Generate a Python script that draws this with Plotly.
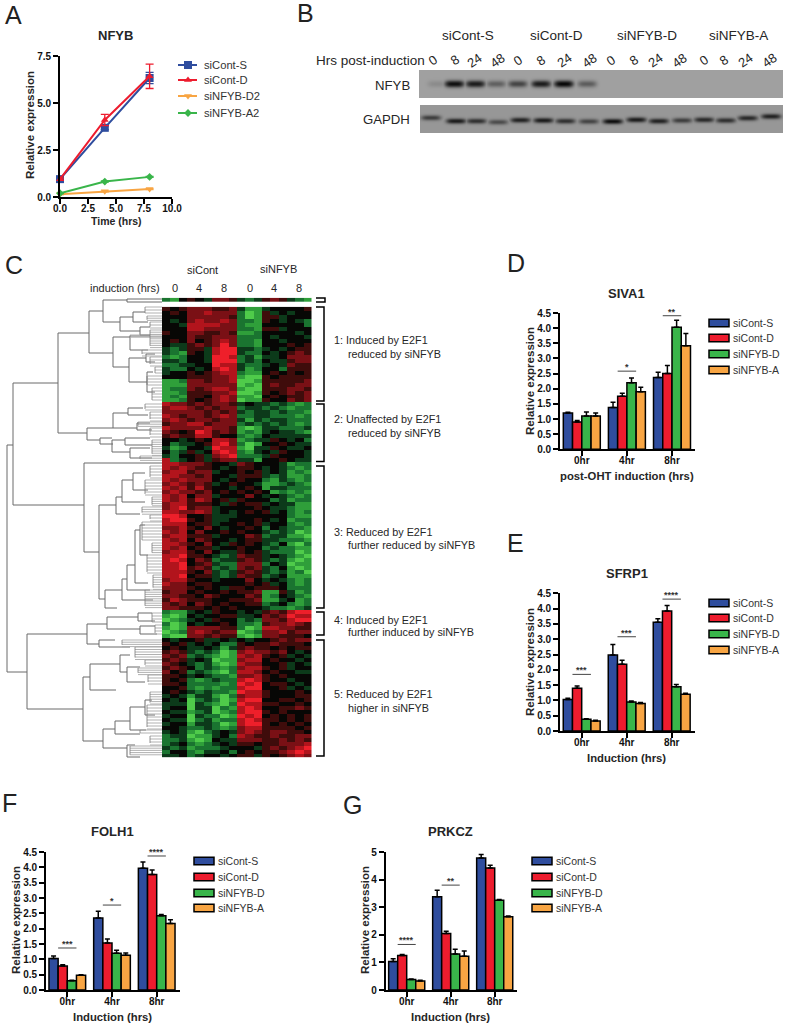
import numpy as np
import plotly.graph_objects as go

W, H = 785, 1024
FONT = "Liberation Sans"
TXT = "#262626"

# ---------- data ----------
SERIES = ["siCont-S", "siCont-D", "siNFYB-D", "siNFYB-A"]
COLORS = ["#2f4d9e", "#ed1c2e", "#39b54a", "#f8a543"]
GROUPS = ["0hr", "4hr", "8hr"]

A_time = [0, 4, 8]
A_names = ["siCont-S", "siCont-D", "siNFYB-D2", "siNFYB-A2"]
A_colors = ["#2f4d9e", "#ed1c2e", "#f8a543", "#39b54a"]
A_symbols = ["square", "triangle-up", "triangle-down", "diamond"]
A_sizes = [8, 7, 7, 6]
A_vals = [[0.95, 3.68, 6.33], [0.95, 4.1, 6.42], [0.15, 0.3, 0.42], [0.2, 0.82, 1.07]]
A_errs = [[0.05, 0.1, 0.3], [0.05, 0.3, 0.65], [0.02, 0.03, 0.03], [0.02, 0.03, 0.03]]

D_vals = [[1.2, 1.38, 2.37], [0.9, 1.75, 2.5], [1.1, 2.2, 4.03], [1.1, 1.9, 3.42]]
D_errs = [[0.02, 0.17, 0.17], [0.05, 0.1, 0.27], [0.13, 0.15, 0.23], [0.1, 0.15, 0.4]]
D_sig = [(1, 2.58, "*"), (2, 4.41, "**")]

E_vals = [[1.03, 2.48, 3.55], [1.4, 2.18, 3.92], [0.38, 0.95, 1.45], [0.33, 0.9, 1.2]]
E_errs = [[0.04, 0.35, 0.12], [0.07, 0.13, 0.18], [0.02, 0.03, 0.07], [0.02, 0.03, 0.03]]
E_sig = [(0, 1.85, "***"), (1, 3.08, "***"), (2, 4.31, "****")]

F_vals = [[1.03, 2.35, 3.97], [0.78, 1.53, 3.77], [0.3, 1.2, 2.42], [0.48, 1.13, 2.17]]
F_errs = [[0.08, 0.22, 0.2], [0.04, 0.13, 0.14], [0.02, 0.1, 0.04], [0.02, 0.08, 0.12]]
F_sig = [(0, 1.37, "***"), (1, 2.77, "*"), (2, 4.37, "****")]

G_vals = [[1.03, 3.38, 4.78], [1.25, 2.05, 4.42], [0.38, 1.3, 3.25], [0.33, 1.22, 2.65]]
G_errs = [[0.1, 0.23, 0.13], [0.04, 0.08, 0.1], [0.02, 0.18, 0.03], [0.02, 0.19, 0.03]]
G_sig = [(0, 1.65, "****"), (1, 3.8, "**"), (2, 5.05, "****")]

# western blot, one value per lane
blot_groups = ["siCont-S", "siCont-D", "siNFYB-D", "siNFYB-A"]
blot_hours = ["0", "8", "24", "48"] * 4
nfyb_band = [0.12, 0.95, 0.85, 0.38, 0.55, 0.85, 1.0, 0.4, 0, 0, 0, 0, 0, 0, 0, 0]
gapdh_band = [0.6, 0.85, 0.7, 0.5, 0.8, 0.85, 0.7, 0.55, 0.95, 0.85, 0.8, 0.6, 0.75, 0.7, 0.75, 0.8]

# expression levels 0 (green) .. 4 (black) .. 8 (red), read row by row
heat_top = ["214 543 665 323 565 321"]
heat_rows = [
 "545 666 556 311 344 445","454 667 666 201 534 344","444 666 665 201 553 444","434 676 676 221 543 432",
 "443 777 766 211 444 442","444 776 666 221 553 444","544 665 565 112 444 434","444 655 666 222 434 443",
 "454 645 676 221 443 444","433 565 686 221 444 545","323 553 788 332 343 455","321 543 788 322 434 565",
 "212 443 887 231 334 666","332 443 888 232 433 566","223 344 877 322 343 655","322 434 787 312 442 555",
 "344 545 677 211 454 545","444 555 667 100 545 555","112 665 667 001 555 556","111 666 666 010 565 566",
 "122 656 776 100 555 665","112 555 667 001 545 656","121 554 676 110 454 556","112 545 676 011 544 656",
 "766 565 665 343 323 212","677 656 566 233 232 122","666 665 656 323 323 221","765 665 676 223 322 212",
 "676 566 566 313 233 222","566 775 666 232 323 212","766 667 665 101 332 223","654 587 565 121 343 321",
 "565 577 544 212 433 333","443 454 776 123 354 342","423 345 786 201 445 433","312 443 877 103 354 334",
 "423 534 787 213 435 443","324 453 678 222 354 443","723 453 566 331 445 433",
 "776 665 443 654 443 122","767 655 434 554 343 212","677 566 344 545 343 121","776 656 443 555 323 112",
 "767 666 434 544 213 212","676 565 345 443 112 321","767 575 443 454 133 222","676 656 454 545 412 121",
 "767 466 344 464 343 212","767 576 453 544 423 122","677 555 435 455 343 311","678 566 344 445 433 211",
 "776 676 343 454 534 212","887 445 333 444 444 211","788 545 334 445 434 122","777 455 344 545 344 212",
 "667 546 434 454 243 221","767 464 454 544 323 201","677 555 344 465 233 110","767 465 443 455 332 221",
 "776 546 435 454 324 102","767 455 344 544 232 211","677 546 433 545 322 201","778 554 323 655 343 210",
 "787 465 233 565 323 101","778 456 322 666 243 011","778 565 232 656 324 101","777 546 323 565 323 120",
 "778 455 323 655 234 111","677 544 344 464 343 212","766 455 444 454 534 212","666 545 435 545 554 222",
 "566 454 454 556 115 312","665 546 544 465 124 321","576 555 445 556 113 412","656 465 454 455 234 212",
 "665 554 545 444 322 123",
 "211 343 544 343 565 788","101 434 455 334 656 877","012 343 544 232 665 788","201 434 454 221 566 765",
 "101 666 655 201 776 655","012 676 566 012 667 566","100 665 655 101 665 554",
 "434 453 343 434 456 566","545 343 422 545 565 554","454 334 313 565 545 455","565 323 201 676 656 434",
 "656 232 101 767 545 343","565 343 011 677 454 434","654 323 101 766 445 343","565 423 212 677 545 344",
 "645 232 102 776 454 433","554 343 221 667 545 444","545 212 322 787 544 344","554 222 212 878 455 434",
 "445 212 122 788 445 343","454 323 221 877 544 454","343 133 102 677 544 455","434 023 201 788 445 545",
 "333 032 102 877 554 454","344 033 021 787 445 565","433 123 012 788 545 444","344 032 201 878 454 545",
 "433 023 122 787 554 545","344 133 201 788 545 454","443 223 212 677 555 545","343 102 343 676 566 554",
 "233 011 342 765 565 566","223 101 433 666 556 565","234 212 343 554 556 667","323 122 234 443 565 678",
 "244 213 342 454 556 787","334 234 434 553 545 676",
]
heat_labels = ["0", "4", "8", "0", "4", "8"]

# dendrogram merges: x, y of upper arm, y of lower arm, end of upper arm, end of lower arm
dendro_nodes = [
 (7,445,672,13,27),(13,383,505,58,84),(27,634,709,87,83),(58,333,433,89,87),(84,463,552,162,99),(99,505,599,116,105),
 (89,311,353,103,113),(103,300,322,127,120),(127,299,302,162,162),(120,317,331,133,140),(133,312,322,145,148),(140,327,335,150,150),
 (113,337,367,130,129),(130,336,350,150,148),(129,358,382,146,147),(146,354,362,155,155),(147,372,392,153,155),
 (87,428,440,113,100),(113,413,428,128,137),(100,438,444,112,113),(128,408,415,143,148),(137,423,430,150,152),
 (112,440,452,125,130),(125,438,445,150,152),(130,448,458,150,152),
 (116,497,514,122,140),(122,480,502,133,145),(133,473,490,145,148),
 (105,590,608,122,117),(122,579,600,127,153),(127,565,590,135,150),(135,530,583,140,148),(140,525,555,145,148),
 (87,624,644,107,99),(107,617,629,138,140),(138,613,621,152,155),(140,626,634,155,157),(99,640,647,115,130),
 (83,677,741,90,103),(90,664,690,120,116),(120,655,672,130,127),(127,667,682,140,145),
 (103,729,748,115,127),(115,721,734,130,140),(130,707,730,145,146),(145,700,715,152,155),(127,745,757,135,140),
]
# leaf runs: first y, last y, x where the leaves start, spacing
leaf_runs = [
 (307,316,145,3),(316,322,147,2.2),(322,330,150,3),(330,348,150,2.2),(335,338,130,2.2),(350,357,142,3),(357,367,150,3),
 (367,376,155,3),(376,388,147,3),(388,403,152,3),(404,412,145,3),(412,422,150,3),(422,428,138,2.2),(428,438,150,3),
 (440,456,152,2.2),(456,461,140,2.2),(466,480,150,3),(480,497,145,3),(497,507,152,2.2),(507,515,142,2.4),
 (515,522,150,3),(522,543,142,3),(543,555,152,2.4),(555,575,147,3),(575,590,153,2.4),(590,608,145,2.2),
 (613,625,152,3),(625,636,155,3),(640,647,122,2.2),(647,660,135,2.5),(660,668,145,3),(668,675,138,2.2),(675,685,148,3),
 (692,705,150,2.4),(705,730,147,3),(730,736,140,3),(736,746,150,3),(746,757,130,2.2),
]
cluster_labels = [
 (340, "1: Induced by E2F1", 354, "reduced by siNFYB"),
 (419, "2: Unaffected by E2F1", 433, "reduced by siNFYB"),
 (532, "3: Reduced by E2F1", 545, "further reduced by siNFYB"),
 (620, "4: Induced by E2F1", 632, "further induced by siNFYB"),
 (694, "5: Reduced by E2F1", 708, "higher in siNFYB"),
]

# ---------- helpers ----------
fig = go.Figure()
layout = {}
ann, shapes = [], []
axn = [0]
def px(x): return x / W
def py(y): return 1 - y / H

def new_axes(x0, x1, ytop, ybot, xkw, ykw):
    axn[0] += 1
    n = axn[0]
    sx = "" if n == 1 else str(n)
    layout["xaxis" + sx] = dict(domain=[px(x0), px(x1)], anchor="y" + sx, automargin=False, **xkw)
    layout["yaxis" + sx] = dict(domain=[py(ybot), py(ytop)], anchor="x" + sx, automargin=False, **ykw)
    return "x" + sx, "y" + sx

def txt(x, y, s, size=11, anchor="center", color=TXT, bold=False, angle=0, weight=None):
    ann.append(dict(xref="paper", yref="paper", x=px(x), y=py(y), text=s, showarrow=False,
                    xanchor=anchor, yanchor="middle", textangle=angle,
                    font=dict(family=FONT, size=size, color=color, weight="bold" if bold else "normal")))

AXIS = dict(showline=True, linecolor="black", linewidth=1.6, ticks="outside", ticklen=5, tickwidth=1.6,
            tickcolor="black", showgrid=False, zeroline=False, fixedrange=True,
            tickfont=dict(family=FONT, size=10, color="#111", weight="bold"))

def bar_panel(vals, errs, sig, title, xlab, ylab_x, x0, x1, c0, step, ytop, ybot, ymax, dtick, fmt,
              xlab_y, title_y, leg_x, leg_ys, ylab_cy):
    xa, ya = new_axes(x0, x1, ytop, ybot,
        dict(AXIS, range=[(x0 - c0) / step, (x1 - c0) / step], tickvals=[0, 1, 2], ticktext=GROUPS, ticklabelstandoff=-4),
        dict(AXIS, range=[0, ymax], dtick=dtick, tickformat=fmt))
    for nm, v, e, c in zip(SERIES, vals, errs, COLORS):
        fig.add_trace(go.Bar(x=[0, 1, 2], y=v, name=nm, xaxis=xa, yaxis=ya, width=0.205,
                             offsetgroup=nm, marker=dict(color=c, line=dict(color="black", width=1.5)),
                             error_y=dict(type="data", array=e, symmetric=False, arrayminus=[0, 0, 0],
                                          color="black", thickness=1.5, width=2.5),
                             cliponaxis=False, showlegend=False))
    for g, y, s in sig:
        fig.add_trace(go.Scatter(x=[g - 0.205, g + 0.205], y=[y, y], mode="lines", xaxis=xa, yaxis=ya,
                                 line=dict(color="#444", width=1), cliponaxis=False, showlegend=False))
        ann.append(dict(xref=xa, yref=ya, x=g, y=y, text=s, showarrow=False, yanchor="middle", yshift=4,
                        font=dict(family=FONT, size=9, color="#333", weight="bold")))
    txt(c0 + step, title_y, title, 13, bold=True)
    txt(c0 + step, xlab_y, xlab, 11.3, bold=True)
    txt(ylab_x, ylab_cy, "Relative expression", 11.5, bold=True, angle=-90)
    for nm, c, ly in zip(SERIES, COLORS, leg_ys):
        shapes.append(dict(type="rect", xref="paper", yref="paper", x0=px(leg_x), x1=px(leg_x + 20),
                           y0=py(ly + 3.7), y1=py(ly - 3.7), fillcolor=c, line=dict(color="black", width=1.5)))
        txt(leg_x + 21.5, ly, nm, 10.5, anchor="left", color="#333")

# ---------- A ----------
xa, ya = new_axes(60, 172, 56, 197,
    dict(AXIS, range=[0, 10], dtick=2.5, tickformat=".1f", ticklabelstandoff=-4),
    dict(AXIS, range=[0, 7.5], dtick=2.5, tickformat=".1f"))
for nm, v, e, c, m, ms in zip(A_names, A_vals, A_errs, A_colors, A_symbols, A_sizes):
    fig.add_trace(go.Scatter(x=A_time, y=v, name=nm, mode="lines+markers", xaxis=xa, yaxis=ya, cliponaxis=False,
                             line=dict(color=c, width=2), marker=dict(color=c, symbol=m, size=ms),
                             error_y=dict(type="data", array=e, color=c, thickness=1.3, width=4), showlegend=False))
txt(115, 35, "NFYB", 13, bold=True)
txt(116, 221, "Time (hrs)", 10.5, bold=True)
txt(30, 125, "Relative expression", 11.5, bold=True, angle=-90)

# overlay in page pixels for keys, dendrogram
ox, oy = new_axes(0, W, 0, H, dict(range=[0, W], visible=False, fixedrange=True),
                  dict(range=[H, 0], visible=False, fixedrange=True))
for nm, c, m, ms, ly in zip(A_names, A_colors, A_symbols, A_sizes, [65, 80, 96, 113]):
    fig.add_trace(go.Scatter(x=[178, 188, 197], y=[ly, ly, ly], mode="lines", line=dict(color=c, width=2),
                             xaxis=ox, yaxis=oy, showlegend=False))
    fig.add_trace(go.Scatter(x=[188], y=[ly], mode="markers", marker=dict(color=c, symbol=m, size=ms),
                             xaxis=ox, yaxis=oy, showlegend=False))
    txt(202, ly, nm, 11.2, anchor="left", color="#333")

# ---------- B ----------
def blot(vals, xc, yc, half_w, half_h, x0, x1, y0, y1, bg):
    gx = np.arange(x0, x1 + 1)
    gy = np.arange(y0, y1 + 1)
    z = np.zeros((len(gy), len(gx)))
    for v, cx, cy in zip(vals, xc, yc):
        z = np.maximum(z, v * np.outer(np.exp(-((gy - cy) / half_h) ** 2), np.exp(-((gx - cx) / half_w) ** 4)))
    bxa, bya = new_axes(x0, x1, y0, y1, dict(range=[x0, x1], visible=False, fixedrange=True),
                        dict(range=[y1, y0], visible=False, fixedrange=True))
    fig.add_trace(go.Heatmap(x=gx, y=gy, z=z, xaxis=bxa, yaxis=bya, zmin=0, zmax=1, zsmooth="best", showscale=False,
                             colorscale=[[0, bg], [0.5, "#4c4c4c"], [1, "#080808"]], hoverinfo="skip"))
nfyb_x = [290 + v / 3 for v in [440, 492, 555, 617, 682, 752, 820, 890, 967, 1038, 1105, 1175, 1241, 1306, 1372, 1442]]
gapdh_x = [290 + v / 3 for v in [422, 497, 558, 623, 690, 759, 825, 895, 967, 1038, 1105, 1175, 1241, 1306, 1372, 1442]]
gapdh_y = [v / 3 for v in [352, 362, 362, 365, 359, 360, 362, 363, 363, 358, 362, 360, 358, 360, 353, 348]]
blot(nfyb_band, nfyb_x, [83.5] * 16, 9.5, 3.4, 419, 783, 70, 98, "#a0a0a0")
blot(gapdh_band, gapdh_x, gapdh_y, 9.8, 2.6, 420, 783, 105, 133, "#979797")
for s, x in zip(blot_groups, [468, 556, 647, 738]):
    txt(x, 35, s, 13.5)
txt(314, 60, "Hrs post-induction", 13.5, anchor="left")
for h, z in zip(blot_hours, [427, 492, 553, 622, 683, 752, 822, 898, 962, 1030, 1095, 1168, 1240, 1300, 1365, 1437]):
    txt(290 + z / 3, 60, h, 13, angle=-35)
txt(412, 85, "NFYB", 13.2, anchor="right")
txt(412, 119, "GAPDH", 13.2, anchor="right")

# ---------- C ----------
def rows(lst):
    return [[int(c) for c in r.replace(" ", "")] for r in lst]
CS = [[0, "#4fcb4a"], [0.125, "#2f9f3a"], [0.25, "#1a7430"], [0.375, "#0c3a1a"], [0.5, "#070705"],
      [0.625, "#3f0c0b"], [0.75, "#7a1015"], [0.875, "#b2141c"], [1, "#ee1f2a"]]
hx0, hx1 = 162, 311.5
txa, tya = new_axes(hx0, hx1, 297.7, 302, dict(range=[-0.5, 17.5], visible=False, fixedrange=True),
                    dict(range=[0.5, -0.5], visible=False, fixedrange=True))
fig.add_trace(go.Heatmap(z=rows(heat_top), xaxis=txa, yaxis=tya, zmin=0, zmax=8, colorscale=CS, showscale=False, hoverinfo="skip"))
hxa, hya = new_axes(hx0, hx1, 306.7, 757.3, dict(range=[-0.5, 17.5], visible=False, fixedrange=True),
                    dict(range=[len(heat_rows) - 0.5, -0.5], visible=False, fixedrange=True))
fig.add_trace(go.Heatmap(z=rows(heat_rows), xaxis=hxa, yaxis=hya, zmin=0, zmax=8, colorscale=CS, showscale=False, hoverinfo="skip"))

lx, ly = [], []
for x, yt, yb, xte, xbe in dendro_nodes:
    lx += [xte, x, x, xbe, None]
    ly += [yt, yt, yb, yb, None]
fig.add_trace(go.Scatter(x=lx, y=ly, mode="lines", line=dict(color="#6a6a6a", width=1), xaxis=ox, yaxis=oy,
                         showlegend=False, hoverinfo="skip"))
lfx, lfy, vx, vy = [], [], [], []
for y0, y1, x, st in leaf_runs:
    for y in np.arange(y0, y1, st):
        lfx += [x, 162, None]
        lfy += [float(y), float(y), None]
    vx += [x, x, None]
    vy += [y0, y1 - st, None]
fig.add_trace(go.Scatter(x=lfx, y=lfy, mode="lines", line=dict(color="#a8a8a8", width=0.9), xaxis=ox, yaxis=oy,
                         showlegend=False, hoverinfo="skip"))
fig.add_trace(go.Scatter(x=vx, y=vy, mode="lines", line=dict(color="#7a7a7a", width=0.8), xaxis=ox, yaxis=oy,
                         showlegend=False, hoverinfo="skip"))

bx, by = [], []
for yt, yb, xo in [(298, 302, 325), (307, 401, 324), (404, 461.5, 324), (466, 608, 324), (612, 635, 324), (640, 756, 324)]:
    bx += [316, xo, xo, 316, None]
    by += [yt, yt, yb, yb, None]
fig.add_trace(go.Scatter(x=bx, y=by, mode="lines", line=dict(color="black", width=1.5), xaxis=ox, yaxis=oy,
                         showlegend=False, hoverinfo="skip"))

txt(202, 270, "siCont", 11)
txt(278, 269, "siNFYB", 11)
txt(88, 288, "induction (hrs)", 11, anchor="left")
for s, x in zip(heat_labels, [175, 199, 224, 250, 274, 299]):
    txt(x, 288, s, 11)
for y1, a, y2, b in cluster_labels:
    txt(332, y1, a, 10.8, anchor="left")
    txt(346, y2, b, 10.8, anchor="left")

# ---------- D E F G ----------
bar_panel(D_vals, D_errs, D_sig, "SIVA1", "post-OHT induction (hrs)", 530, 560, 695, 581.8, 45.1, 313, 449.3, 4.5, 0.5, ".1f",
          476, 293, 709, [323, 338, 354, 370], 381)
bar_panel(E_vals, E_errs, E_sig, "SFRP1", "Induction (hrs)", 530, 560, 695, 581.7, 45, 593.3, 731, 4.5, 0.5, ".1f",
          758, 573, 709, [603, 618, 634, 650], 662)
bar_panel(F_vals, F_errs, F_sig, "FOLH1", "Induction (hrs)", 16, 46, 180, 67.3, 44.7, 852, 990, 4.5, 0.5, ".1f",
          1017, 831, 194, [861, 877, 893, 908], 920)
bar_panel(G_vals, G_errs, G_sig, "PRKCZ", "Induction (hrs)", 365, 385.7, 517, 406.7, 44, 852, 990, 5, 1, "d",
          1017, 831, 532, [861, 877, 893, 908], 920)

# panel letters
for s, x, y in [("A", 3, 15), ("B", 295, 13), ("C", 3, 265), ("D", 505, 263), ("E", 505, 543), ("F", 0, 803), ("G", 341, 805)]:
    txt(x, y, s, 25, anchor="left", color="#222")

fig.update_layout(width=W, height=H, margin=dict(l=0, r=0, t=0, b=0), paper_bgcolor="white", plot_bgcolor="rgba(0,0,0,0)",
                  barmode="group", bargap=0.18, bargroupgap=0, showlegend=False, annotations=ann, shapes=shapes,
                  font=dict(family=FONT), **layout)
fig.write_html("out.html", post_script="document.body.style.margin='0';document.documentElement.style.overflow='hidden';",
               config=dict(displayModeBar=False))
